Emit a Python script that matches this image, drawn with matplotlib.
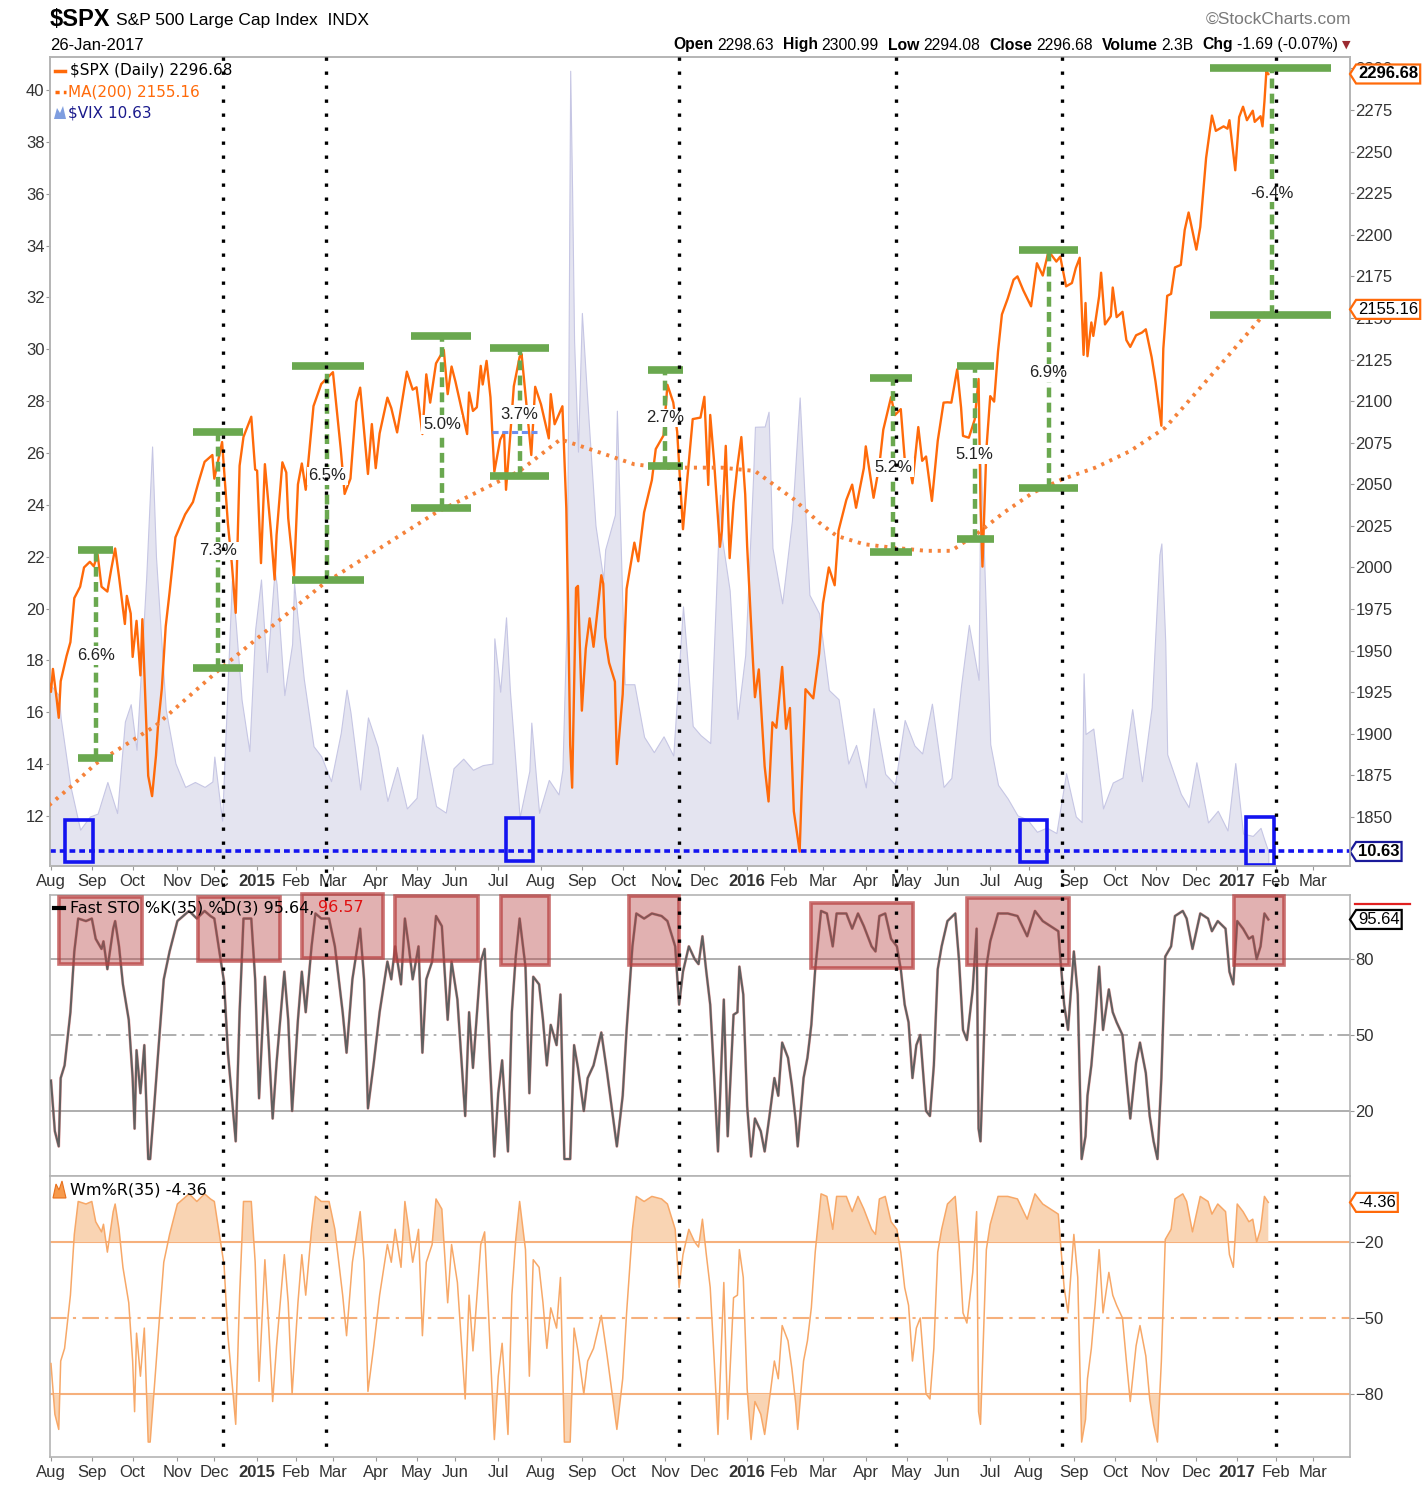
import numpy as np
import matplotlib
matplotlib.use("Agg")
import matplotlib.pyplot as plt
from matplotlib.patches import Rectangle, Polygon
from matplotlib.lines import Line2D
from matplotlib.path import Path
import matplotlib.transforms as mtransforms

plt.rcParams['font.family'] = ['Liberation Sans', 'DejaVu Sans']

# NYSE holidays in the window -> x axis counts trading days, like StockCharts
holidays = ['2014-09-01', '2014-11-27', '2014-12-25', '2015-01-01', '2015-01-19',
            '2015-02-16', '2015-04-03', '2015-05-25', '2015-07-03', '2015-09-07',
            '2015-11-26', '2015-12-25', '2016-01-01', '2016-01-18', '2016-02-15',
            '2016-03-25', '2016-05-30', '2016-07-04', '2016-09-05', '2016-11-24',
            '2016-12-26', '2017-01-02', '2017-01-16', '2017-02-20']
start_day = np.datetime64('2014-08-01')


def tday(dates):
    d = np.array(dates, dtype='datetime64[D]')
    return np.busday_count(start_day, d, holidays=holidays)


# ---- data ----
spx = [
    ('2014-07-31', 1930.7), ('2014-08-01', 1925.2), ('2014-08-04', 1939.0), ('2014-08-06', 1920.2),
    ('2014-08-07', 1909.6), ('2014-08-08', 1931.6), ('2014-08-13', 1946.7), ('2014-08-15', 1955.1),
    ('2014-08-19', 1981.6), ('2014-08-22', 1988.4), ('2014-08-26', 2000.0), ('2014-08-29', 2003.4),
    ('2014-09-03', 2000.7), ('2014-09-05', 2007.7), ('2014-09-09', 1988.4), ('2014-09-12', 1985.5),
    ('2014-09-16', 1999.0), ('2014-09-18', 2011.4), ('2014-09-22', 1994.3), ('2014-09-25', 1966.0),
    ('2014-09-26', 1982.9), ('2014-09-30', 1972.3), ('2014-10-01', 1946.2), ('2014-10-03', 1967.9),
    ('2014-10-07', 1935.1), ('2014-10-08', 1968.9), ('2014-10-10', 1906.1), ('2014-10-13', 1874.7),
    ('2014-10-15', 1862.5), ('2014-10-17', 1886.8), ('2014-10-20', 1904.0), ('2014-10-22', 1927.1),
    ('2014-10-24', 1964.6), ('2014-10-28', 1985.1), ('2014-10-31', 2018.1), ('2014-11-07', 2031.9),
    ('2014-11-13', 2039.3), ('2014-11-18', 2051.8), ('2014-11-21', 2063.5), ('2014-11-28', 2067.6),
    ('2014-12-01', 2053.4), ('2014-12-05', 2075.4), ('2014-12-10', 2026.1), ('2014-12-12', 2002.3),
    ('2014-12-16', 1972.7), ('2014-12-18', 2061.2), ('2014-12-22', 2078.5), ('2014-12-29', 2090.6),
    ('2014-12-31', 2058.9), ('2015-01-02', 2058.2), ('2015-01-06', 2002.6), ('2015-01-08', 2062.1),
    ('2015-01-13', 2023.0), ('2015-01-15', 1992.7), ('2015-01-16', 2019.4), ('2015-01-22', 2063.2),
    ('2015-01-26', 2057.1), ('2015-01-27', 2029.6), ('2015-01-30', 1995.0), ('2015-02-03', 2050.0),
    ('2015-02-05', 2062.5), ('2015-02-09', 2046.7), ('2015-02-13', 2097.0), ('2015-02-20', 2110.3),
    ('2015-02-25', 2113.9), ('2015-03-02', 2117.4), ('2015-03-06', 2071.3), ('2015-03-10', 2044.2),
    ('2015-03-13', 2053.4), ('2015-03-18', 2099.5), ('2015-03-20', 2108.1), ('2015-03-26', 2056.2),
    ('2015-03-30', 2086.2), ('2015-04-01', 2059.7), ('2015-04-06', 2080.6), ('2015-04-10', 2102.1),
    ('2015-04-14', 2095.8), ('2015-04-17', 2081.2), ('2015-04-24', 2117.7), ('2015-04-29', 2106.9),
    ('2015-05-01', 2108.3), ('2015-05-05', 2089.5), ('2015-05-06', 2080.2), ('2015-05-08', 2116.1),
    ('2015-05-12', 2099.1), ('2015-05-15', 2122.7), ('2015-05-21', 2130.8), ('2015-05-26', 2104.2),
    ('2015-05-28', 2120.8), ('2015-06-01', 2111.7), ('2015-06-04', 2095.8), ('2015-06-09', 2080.2),
    ('2015-06-10', 2105.2), ('2015-06-12', 2094.1), ('2015-06-16', 2096.3), ('2015-06-18', 2121.2),
    ('2015-06-19', 2110.0), ('2015-06-23', 2124.2), ('2015-06-25', 2102.3), ('2015-06-29', 2057.6),
    ('2015-07-02', 2076.8), ('2015-07-07', 2081.3), ('2015-07-08', 2046.7), ('2015-07-10', 2076.6),
    ('2015-07-14', 2108.9), ('2015-07-17', 2126.6), ('2015-07-20', 2128.3), ('2015-07-24', 2079.7),
    ('2015-07-27', 2067.6), ('2015-07-29', 2108.6), ('2015-08-03', 2098.0), ('2015-08-07', 2077.6),
    ('2015-08-10', 2104.2), ('2015-08-12', 2086.1), ('2015-08-18', 2096.9), ('2015-08-20', 2035.7),
    ('2015-08-21', 1970.9), ('2015-08-24', 1893.2), ('2015-08-25', 1867.6), ('2015-08-27', 1987.7),
    ('2015-08-28', 1988.9), ('2015-09-01', 1913.9), ('2015-09-03', 1951.1), ('2015-09-08', 1969.4),
    ('2015-09-10', 1952.3), ('2015-09-16', 1995.3), ('2015-09-17', 1990.2), ('2015-09-18', 1958.0),
    ('2015-09-22', 1942.7), ('2015-09-25', 1931.3), ('2015-09-28', 1881.8), ('2015-10-01', 1923.8),
    ('2015-10-05', 1987.1), ('2015-10-09', 2014.9), ('2015-10-13', 2003.7), ('2015-10-16', 2033.1),
    ('2015-10-22', 2052.5), ('2015-10-26', 2071.2), ('2015-10-30', 2079.4), ('2015-11-03', 2109.8),
    ('2015-11-06', 2099.2), ('2015-11-10', 2081.7), ('2015-11-13', 2023.0), ('2015-11-17', 2050.4),
    ('2015-11-20', 2089.2), ('2015-11-27', 2090.1), ('2015-12-01', 2102.6), ('2015-12-03', 2049.6),
    ('2015-12-04', 2091.7), ('2015-12-08', 2063.6), ('2015-12-11', 2012.4), ('2015-12-14', 2021.9),
    ('2015-12-16', 2073.1), ('2015-12-18', 2005.6), ('2015-12-22', 2039.0), ('2015-12-24', 2061.0),
    ('2015-12-29', 2078.4), ('2015-12-31', 2043.9), ('2016-01-04', 2012.7), ('2016-01-07', 1943.1),
    ('2016-01-08', 1922.0), ('2016-01-12', 1938.7), ('2016-01-15', 1880.3), ('2016-01-20', 1859.3),
    ('2016-01-22', 1906.9), ('2016-01-26', 1903.6), ('2016-01-29', 1940.2), ('2016-02-02', 1903.0),
    ('2016-02-04', 1915.5), ('2016-02-08', 1853.4), ('2016-02-11', 1829.1), ('2016-02-12', 1864.8),
    ('2016-02-17', 1926.8), ('2016-02-23', 1921.3), ('2016-02-26', 1948.1), ('2016-03-01', 1978.4),
    ('2016-03-04', 2000.0), ('2016-03-09', 1989.3), ('2016-03-11', 2022.2), ('2016-03-17', 2040.6),
    ('2016-03-22', 2049.8), ('2016-03-24', 2035.9), ('2016-03-31', 2059.7), ('2016-04-01', 2072.8),
    ('2016-04-07', 2041.9), ('2016-04-12', 2061.7), ('2016-04-14', 2082.8), ('2016-04-20', 2102.4),
    ('2016-04-22', 2091.6), ('2016-04-27', 2095.2), ('2016-04-29', 2065.3), ('2016-05-03', 2063.4),
    ('2016-05-05', 2050.6), ('2016-05-10', 2084.4), ('2016-05-12', 2064.1), ('2016-05-16', 2066.7),
    ('2016-05-19', 2040.0), ('2016-05-24', 2076.1), ('2016-05-27', 2099.1), ('2016-06-01', 2099.3),
    ('2016-06-03', 2099.1), ('2016-06-08', 2119.1), ('2016-06-10', 2096.1), ('2016-06-13', 2079.1),
    ('2016-06-16', 2078.0), ('2016-06-21', 2088.9), ('2016-06-23', 2113.3), ('2016-06-24', 2037.4),
    ('2016-06-27', 2000.5), ('2016-06-29', 2070.8), ('2016-07-01', 2103.0), ('2016-07-06', 2099.7),
    ('2016-07-08', 2129.9), ('2016-07-12', 2152.1), ('2016-07-15', 2161.7), ('2016-07-20', 2173.0),
    ('2016-07-22', 2175.0), ('2016-07-27', 2166.6), ('2016-08-02', 2157.0), ('2016-08-05', 2182.9),
    ('2016-08-10', 2175.5), ('2016-08-15', 2190.2), ('2016-08-19', 2183.9), ('2016-08-23', 2186.9),
    ('2016-08-26', 2169.0), ('2016-08-31', 2171.0), ('2016-09-02', 2180.0), ('2016-09-07', 2186.2),
    ('2016-09-09', 2127.8), ('2016-09-12', 2159.0), ('2016-09-13', 2127.0), ('2016-09-15', 2147.3),
    ('2016-09-16', 2139.2), ('2016-09-21', 2163.1), ('2016-09-22', 2177.2), ('2016-09-26', 2146.1),
    ('2016-09-29', 2151.1), ('2016-09-30', 2168.3), ('2016-10-04', 2150.5), ('2016-10-07', 2153.7),
    ('2016-10-11', 2136.7), ('2016-10-13', 2132.6), ('2016-10-18', 2139.6), ('2016-10-21', 2141.2),
    ('2016-10-25', 2143.2), ('2016-10-28', 2126.4), ('2016-11-01', 2111.7), ('2016-11-04', 2085.2),
    ('2016-11-07', 2131.5), ('2016-11-09', 2163.3), ('2016-11-11', 2164.5), ('2016-11-15', 2180.4),
    ('2016-11-18', 2181.9), ('2016-11-22', 2202.9), ('2016-11-25', 2213.4), ('2016-12-01', 2191.1),
    ('2016-12-05', 2204.7), ('2016-12-08', 2246.2), ('2016-12-13', 2271.7), ('2016-12-15', 2262.5),
    ('2016-12-21', 2265.2), ('2016-12-23', 2263.8), ('2016-12-27', 2268.9), ('2016-12-30', 2238.8),
    ('2017-01-04', 2270.8), ('2017-01-06', 2277.0), ('2017-01-10', 2268.9), ('2017-01-13', 2274.6),
    ('2017-01-17', 2267.9), ('2017-01-20', 2271.3), ('2017-01-23', 2265.2), ('2017-01-24', 2280.1),
    ('2017-01-25', 2298.4), ('2017-01-26', 2296.68),
]

vix = [
    ('2014-07-31', 16.95), ('2014-08-01', 17.03), ('2014-08-07', 16.66), ('2014-08-08', 15.77),
    ('2014-08-15', 13.15), ('2014-08-22', 11.47), ('2014-08-29', 11.98), ('2014-09-05', 12.09),
    ('2014-09-12', 13.31), ('2014-09-19', 12.11), ('2014-09-25', 15.64), ('2014-09-30', 16.31),
    ('2014-10-03', 14.55), ('2014-10-10', 21.24), ('2014-10-15', 26.25), ('2014-10-17', 21.99),
    ('2014-10-24', 16.11), ('2014-10-31', 14.03), ('2014-11-07', 13.12), ('2014-11-14', 13.31),
    ('2014-11-21', 13.12), ('2014-11-28', 13.33), ('2014-12-01', 14.29), ('2014-12-05', 11.82),
    ('2014-12-12', 21.08), ('2014-12-16', 19.44), ('2014-12-19', 16.49), ('2014-12-26', 14.50),
    ('2014-12-31', 19.20), ('2015-01-06', 21.12), ('2015-01-09', 17.55), ('2015-01-15', 21.48),
    ('2015-01-16', 20.95), ('2015-01-23', 16.66), ('2015-01-29', 18.63), ('2015-01-30', 20.97),
    ('2015-02-06', 17.29), ('2015-02-13', 14.69), ('2015-02-20', 14.30), ('2015-02-27', 13.34),
    ('2015-03-06', 15.20), ('2015-03-11', 16.87), ('2015-03-13', 16.00), ('2015-03-20', 13.02),
    ('2015-03-26', 15.80), ('2015-04-02', 14.67), ('2015-04-10', 12.58), ('2015-04-17', 13.89),
    ('2015-04-24', 12.29), ('2015-05-01', 12.70), ('2015-05-06', 15.15), ('2015-05-15', 12.38),
    ('2015-05-22', 12.13), ('2015-05-29', 13.84), ('2015-06-05', 14.21), ('2015-06-12', 13.78),
    ('2015-06-19', 13.96), ('2015-06-26', 14.02), ('2015-06-29', 18.85), ('2015-07-02', 16.79),
    ('2015-07-08', 19.66), ('2015-07-10', 16.83), ('2015-07-17', 11.95), ('2015-07-24', 13.74),
    ('2015-07-27', 15.60), ('2015-07-31', 12.12), ('2015-08-07', 13.39), ('2015-08-14', 12.83),
    ('2015-08-18', 13.79), ('2015-08-20', 19.14), ('2015-08-21', 28.03), ('2015-08-24', 40.74),
    ('2015-08-25', 36.02), ('2015-08-26', 30.32), ('2015-08-28', 26.05), ('2015-09-01', 31.40),
    ('2015-09-04', 27.80), ('2015-09-11', 23.20), ('2015-09-17', 21.14), ('2015-09-18', 22.28),
    ('2015-09-25', 23.62), ('2015-09-28', 27.63), ('2015-10-02', 17.08), ('2015-10-09', 17.08),
    ('2015-10-16', 15.05), ('2015-10-23', 14.46), ('2015-10-30', 15.07), ('2015-11-06', 14.33),
    ('2015-11-13', 20.08), ('2015-11-20', 15.47), ('2015-11-27', 15.12), ('2015-12-04', 14.81),
    ('2015-12-11', 24.39), ('2015-12-14', 22.73), ('2015-12-18', 20.70), ('2015-12-24', 15.74),
    ('2015-12-31', 18.21), ('2016-01-07', 24.99), ('2016-01-08', 27.01), ('2016-01-15', 27.02),
    ('2016-01-20', 27.59), ('2016-01-22', 22.34), ('2016-01-29', 20.20), ('2016-02-05', 23.38),
    ('2016-02-11', 28.14), ('2016-02-19', 20.53), ('2016-02-26', 19.81), ('2016-03-04', 16.86),
    ('2016-03-11', 16.50), ('2016-03-18', 14.02), ('2016-03-24', 14.74), ('2016-04-01', 13.10),
    ('2016-04-07', 16.16), ('2016-04-15', 13.62), ('2016-04-22', 13.22), ('2016-04-29', 15.70),
    ('2016-05-06', 14.72), ('2016-05-12', 14.41), ('2016-05-19', 16.33), ('2016-05-27', 13.12),
    ('2016-06-03', 13.47), ('2016-06-10', 17.03), ('2016-06-16', 19.37), ('2016-06-23', 17.25),
    ('2016-06-24', 25.76), ('2016-06-27', 23.85), ('2016-07-01', 14.77), ('2016-07-08', 13.20),
    ('2016-07-15', 12.67), ('2016-07-22', 12.02), ('2016-07-29', 11.87), ('2016-08-05', 11.39),
    ('2016-08-12', 11.55), ('2016-08-19', 11.34), ('2016-08-26', 13.65), ('2016-09-02', 11.98),
    ('2016-09-08', 11.76), ('2016-09-09', 17.50), ('2016-09-12', 15.16), ('2016-09-16', 15.37),
    ('2016-09-23', 12.29), ('2016-09-30', 13.29), ('2016-10-07', 13.48), ('2016-10-14', 16.12),
    ('2016-10-21', 13.34), ('2016-10-28', 16.19), ('2016-11-03', 22.08), ('2016-11-04', 22.51),
    ('2016-11-08', 18.71), ('2016-11-09', 14.38), ('2016-11-18', 12.85), ('2016-11-25', 12.34),
    ('2016-12-01', 14.07), ('2016-12-09', 11.75), ('2016-12-16', 12.20), ('2016-12-23', 11.44),
    ('2016-12-30', 14.04), ('2017-01-06', 11.32), ('2017-01-13', 11.23), ('2017-01-20', 11.54),
    ('2017-01-24', 11.07), ('2017-01-26', 10.63),
]

# MA(200), trading day since 1-Aug-2014 -> value
ma200 = [(-1, 1857), (12, 1870), (23, 1882), (54, 1905), (86, 1938), (140, 1990), (198, 2033),
         (241, 2058), (262, 2077), (280, 2070), (300, 2062), (315, 2060), (345, 2060), (362, 2058),
         (382, 2041), (395, 2027), (404, 2019), (418, 2014), (432, 2012), (450, 2010), (463, 2010),
         (477, 2021), (490, 2033), (505, 2045), (520, 2053), (537, 2060), (555, 2070), (573, 2084),
         (600, 2120), (626, 2155.16)]

# Fast STO %K(35), trading day -> value
sto = [(0, 32), (2, 12), (4, 6), (5, 33), (7, 38), (10, 59), (12, 83), (14, 96), (18, 95), (21, 96),
       (23, 88), (26, 84), (27, 87), (29, 76), (32, 92), (33, 95), (35, 85), (37, 70), (40, 56),
       (42, 33), (43, 13), (44, 44), (46, 27), (48, 46), (50, 1), (51, 1), (53, 21), (56, 52),
       (58, 72), (61, 83), (65, 95), (68, 97), (71, 99), (75, 96), (79, 99), (82, 97), (84, 96),
       (87, 81), (89, 71), (91, 43), (95, 8), (97, 59), (99, 96), (103, 96), (105, 72), (107, 25),
       (110, 73), (112, 46), (114, 17), (116, 39), (120, 75), (122, 56), (124, 20), (127, 56),
       (129, 75), (131, 59), (134, 85), (136, 98), (139, 96), (143, 96), (146, 85), (150, 59),
       (152, 43), (155, 72), (159, 92), (161, 72), (163, 21), (166, 39), (169, 59), (173, 79),
       (175, 72), (177, 85), (180, 70), (182, 96), (184, 85), (186, 72), (189, 85), (191, 43),
       (193, 72), (196, 79), (198, 97), (201, 93), (204, 56), (206, 79), (209, 64), (213, 18),
       (215, 59), (217, 37), (221, 79), (223, 84), (225, 52), (228, 2), (230, 27), (232, 40),
       (235, 4), (237, 59), (239, 81), (241, 96), (244, 77), (246, 27), (248, 73), (251, 70),
       (253, 56), (255, 38), (257, 54), (260, 46), (262, 66), (264, 1), (267, 1), (269, 46),
       (271, 37), (274, 20), (276, 33), (279, 38), (283, 51), (286, 35), (291, 6), (294, 26),
       (296, 52), (299, 85), (301, 98), (305, 96), (309, 98), (314, 97), (317, 95), (321, 85),
       (323, 62), (325, 75), (328, 85), (331, 80), (333, 78), (335, 89), (337, 75), (339, 62),
       (341, 34), (343, 4), (346, 64), (348, 10), (351, 58), (353, 59), (354, 77), (356, 66),
       (358, 22), (360, 2), (362, 17), (365, 12), (367, 4), (370, 21), (372, 33), (374, 26),
       (376, 47), (379, 41), (381, 30), (383, 16), (384, 6), (387, 33), (389, 41), (391, 54),
       (393, 76), (396, 99), (399, 98), (402, 85), (404, 98), (409, 98), (412, 92), (415, 98),
       (418, 93), (422, 85), (424, 83), (426, 97), (429, 98), (432, 88), (435, 85), (437, 76),
       (439, 62), (441, 55), (443, 33), (445, 46), (447, 50), (450, 20), (452, 18), (454, 38),
       (456, 76), (458, 85), (461, 95), (465, 98), (467, 79), (469, 52), (471, 48), (474, 68),
       (476, 92), (477, 13), (478, 8), (481, 77), (483, 87), (487, 98), (492, 98), (497, 97),
       (502, 89), (506, 99), (510, 95), (514, 93), (518, 91), (519, 81), (521, 62), (523, 52),
       (526, 83), (528, 66), (530, 1), (532, 10), (533, 26), (535, 38), (537, 56), (539, 77),
       (541, 52), (544, 68), (546, 59), (548, 55), (551, 50), (553, 33), (555, 17), (558, 39),
       (560, 47), (563, 35), (565, 18), (567, 8), (569, 1), (571, 33), (573, 81), (576, 85),
       (578, 97), (582, 99), (584, 96), (587, 84), (591, 98), (595, 96), (597, 91), (600, 95),
       (604, 92), (606, 75), (608, 70), (610, 95), (613, 92), (616, 88), (618, 89), (620, 80),
       (622, 85), (624, 98), (626, 95.64)]

month_labels = ['Aug', 'Sep', 'Oct', 'Nov', 'Dec', '2015', 'Feb', 'Mar', 'Apr', 'May', 'Jun',
                'Jul', 'Aug', 'Sep', 'Oct', 'Nov', 'Dec', '2016', 'Feb', 'Mar', 'Apr', 'May',
                'Jun', 'Jul', 'Aug', 'Sep', 'Oct', 'Nov', 'Dec', '2017', 'Feb', 'Mar']

# swing annotations: left day, right day, centre day, bar high, bar low, label, label price
swings = [(14, 32, 23, 2010.5, 1885.5, '6.6%', 1947),
          (73, 99, 86, 2081.4, 1939.6, '7.3%', 2010),
          (124, 161, 142, 2121.1, 1992.5, '6.5%', 2055),
          (185, 216, 201, 2139.2, 2035.8, '5.0%', 2086),
          (226, 256, 241, 2131.9, 2055.0, '3.7%', 2092),
          (307, 325, 316, 2118.7, 2061.0, '2.7%', 2090),
          (421, 443, 433, 2113.9, 2009.3, '5.2%', 2060),
          (466, 485, 475, 2121.1, 2017.1, '5.1%', 2068),
          (498, 528, 513, 2190.8, 2047.8, '6.9%', 2117),
          (596, 658, 628, 2300.2, 2151.8, '-6.4%', 2225)]

marker_days = [88.4, 141.3, 322.7, 434.7, 520, 630]
# low-VIX boxes: day0, day1, vix0, vix1
vix_boxes = [(7.2, 21.6, 10.23, 11.85), (233.8, 247.7, 10.27, 11.92),
             (498.5, 512.3, 10.21, 11.85), (614.6, 629, 10.12, 11.96)]
# overbought boxes on STO: day0, day1, k0, k1
sto_boxes = [(4.1, 46.8, 78, 104.5), (75.5, 117.7, 79.2, 104.5), (129, 170.6, 80.4, 105.5),
             (176.8, 219.4, 79.2, 105), (231.2, 255.9, 77.6, 105), (297, 322.7, 77.6, 105),
             (391, 443.5, 76.4, 102.1), (471.2, 523.6, 77.6, 104.1), (608.4, 634.1, 77.6, 105)]

spx_d, spx_v = zip(*spx)
spx_x = tday(spx_d)
spx_v = np.array(spx_v)
vix_d, vix_v = zip(*vix)
vix_x = tday(vix_d)
vix_v = np.array(vix_v)
ma_x, ma_v = map(np.array, zip(*ma200))
sto_x, sto_k = map(np.array, zip(*sto))
wr = sto_k - 100  # Williams %R(35) is %K(35) shifted down by 100

months = np.arange('2014-08', '2017-04', dtype='datetime64[M]').astype('datetime64[D]')
month_pos = tday(np.busday_offset(months, 0, roll='forward', holidays=holidays))

# ---- figure ----
W, H = 1424, 1501
fig = plt.figure(figsize=(W / 100, H / 100), dpi=100)
renderer = fig.canvas.get_renderer()


def fx(px):
    return px / W


def fy(py):
    return 1 - py / H


L, R = 50, 1350
ax = fig.add_axes([fx(L), fy(866), (R - L) / W, (866 - 57) / H])
ax2 = ax.twinx()
ax_sto = fig.add_axes([fx(L), fy(1176), (R - L) / W, (1176 - 895) / H])
ax_wr = fig.add_axes([fx(L), fy(1457), (R - L) / W, (1457 - 1176) / H])

spine_c = '#b4b4b4'
for a in (ax, ax2, ax_sto, ax_wr):
    a.set_xlim(-0.5, 668)
    for s in a.spines.values():
        s.set_color(spine_c)
        s.set_linewidth(1.2)

tk = dict(labelsize=12, length=3, color='#999999', labelcolor='#333333')

# VIX area on left scale
ax.fill_between(vix_x, vix_v, 0, facecolor='#e4e4f0', edgecolor='#c6c6e4', lw=0.8, zorder=1)
ax.set_ylim(10.07, 41.27)
ax.set_yticks(range(12, 41, 2))
ax.axhline(10.63, color='#1414f0', lw=2.6, ls=(0, (1.6, 1.1)), zorder=3)
for d0, d1, v0, v1 in vix_boxes:
    ax.add_patch(Rectangle((d0, v0), d1 - d0, v1 - v0, fill=False, ec='#1414f0', lw=2.6, zorder=4))

# price on right scale
ax2.plot(spx_x, spx_v, color='#ff6a0a', lw=1.7, zorder=3)
ax2.plot(ma_x, ma_v, color='#f5823a', lw=2.8, ls=(0, (0.8, 1.5)), zorder=3)
ax2.set_ylim(1820.5, 2306.9)
ax2.set_yticks(range(1850, 2301, 25))
green = '#6aa84f'
for d0, d1, dc, hi, lo, lab, ly in swings:
    ax2.plot([d0, d1], [hi, hi], color=green, lw=5.5, solid_capstyle='butt', zorder=5)
    ax2.plot([d0, d1], [lo, lo], color=green, lw=5.5, solid_capstyle='butt', zorder=5)
    ax2.plot([dc, dc], [lo, hi], color=green, lw=3.2, ls=(0, (2.2, 1.2)), zorder=5)
    ax2.text(dc, ly, lab, ha='center', va='center', fontsize=12, color='#222222', zorder=6,
             bbox=dict(fc='white', ec='none', pad=1.2))
ax2.plot([227, 250], [2081.4, 2081.4], color='#6d8ff0', lw=2.2, ls=(0, (2, 1.2)), zorder=4)

ax.set_xticks(month_pos)
ax.set_xticklabels(month_labels)
ax.tick_params(axis='x', pad=3, **tk)
ax.tick_params(axis='y', pad=1, **tk)
ax2.tick_params(axis='y', pad=1, **tk)

# Fast STO panel
ax_sto.set_ylim(-5.7, 105.3)
for lv, ls in ((80, '-'), (50, (0, (8, 3, 1.5, 3))), (20, '-')):
    ax_sto.axhline(lv, color='#a8a8a8', lw=1.3, ls=ls, zorder=1)
ax_sto.plot(sto_x, sto_k, color='#e24a4a', lw=2.1, alpha=0.45, zorder=2)
ax_sto.plot(sto_x, sto_k, color='#606060', lw=1.5, zorder=3)
for d0, d1, k0, k1 in sto_boxes:
    ax_sto.add_patch(Rectangle((d0, k0), d1 - d0, k1 - k0, fc=(0.72, 0.28, 0.28, 0.42),
                               ec=(0.72, 0.25, 0.25, 0.75), lw=2.6, zorder=4, clip_on=False))
ax_sto.yaxis.tick_right()
ax_sto.set_yticks([20, 50, 80])
ax_sto.set_xticks(month_pos)
ax_sto.tick_params(axis='x', length=0, labelbottom=False)
ax_sto.tick_params(axis='y', pad=1, **tk)

# Williams %R panel
ax_wr.set_ylim(-104.9, 6.06)
for lv, ls in ((-20, '-'), (-50, (0, (8, 3, 1.5, 3))), (-80, '-')):
    ax_wr.axhline(lv, color='#f6b07c', lw=1.5, ls=ls, zorder=1)
ax_wr.fill_between(sto_x, wr, -20, where=wr >= -20, interpolate=True, color='#f9d4b3', lw=0, zorder=2)
ax_wr.fill_between(sto_x, wr, -80, where=wr <= -80, interpolate=True, color='#f9d4b3', lw=0, zorder=2)
ax_wr.plot(sto_x, wr, color='#f7a868', lw=1.1, zorder=3)
ax_wr.yaxis.tick_right()
ax_wr.set_yticks([-80, -50, -20])
ax_wr.set_xticks(month_pos)
ax_wr.set_xticklabels(month_labels)
ax_wr.tick_params(axis='x', pad=3, **tk)
ax_wr.tick_params(axis='y', pad=1, **tk)

for a in (ax, ax_wr):
    for t in a.get_xticklabels():
        if t.get_text().isdigit():
            t.set_fontweight('bold')

# black dotted markers through all panels
trans_fig = mtransforms.blended_transform_factory(ax.transData, fig.transFigure)
for d in marker_days:
    fig.add_artist(Line2D([d, d], [fy(57), fy(1457)], transform=trans_fig, color='black',
                          lw=2.4, ls=(0, (1, 3.2)), zorder=10))


# value tags on the right edge
def tag_shape(x0, y0, width, height, mutation_size):
    pad = 0.12 * mutation_size
    x0, y0 = x0 - pad, y0 - pad
    x1, y1 = x0 + width + 2 * pad, y0 + height + 2 * pad
    tip = x0 - 0.32 * (y1 - y0)
    return Path([(x0, y0), (x1, y0), (x1, y1), (x0, y1), (tip, (y0 + y1) / 2), (x0, y0)],
                closed=True)


def tag(a, y, s, ec, bold=False):
    tr = mtransforms.blended_transform_factory(a.transAxes, a.transData)
    a.text(1.0062, y, s, transform=tr, ha='left', va='center', fontsize=12,
           fontweight='bold' if bold else 'normal', clip_on=False, zorder=20,
           bbox=dict(boxstyle=tag_shape, fc='white', ec=ec, lw=1.6))


tag(ax2, 2296.68, '2296.68', '#ff6a0a', bold=True)
tag(ax2, 2155.16, '2155.16', '#ff6a0a')
tag(ax, 10.63, '10.63', '#1a1a9a', bold=True)
tag(ax_sto, 95.64, '95.64', 'black')
tag(ax_wr, -4.36, '-4.36', '#ff6a0a')
# the %D tag (96.57) sits right behind the %K tag; only its red top edge shows
tr_sto = mtransforms.blended_transform_factory(ax_sto.transAxes, ax_sto.transData)
ax_sto.plot([1.004, 1.046], [101.6, 101.6], transform=tr_sto, color='#e02020', lw=1.6,
            clip_on=False, zorder=19)

# header
t = fig.text(fx(50), fy(19), '$SPX', fontsize=17, fontweight='bold', va='center',
             parse_math=False)
bb = t.get_window_extent(renderer)
fig.text(fx(bb.x1 + 5), fy(20), 'S&P 500 Large Cap Index  INDX', fontsize=12.5, va='center')
fig.text(fx(50), fy(45), '26-Jan-2017', fontsize=12, va='center')
fig.text(fx(1351), fy(19), '\u00a9StockCharts.com', fontsize=12.5, va='center', ha='right',
         color='#7a7a7a')

quote = [('Open', True), ('2298.63', False), ('High', True), ('2300.99', False),
         ('Low', True), ('2294.08', False), ('Close', True), ('2296.68', False),
         ('Volume', True), ('2.3B', False), ('Chg', True), ('-1.69 (-0.07%)', False)]
gaps = [4 if b else 9 for s, b in quote]
widths = []
for s, b in quote:
    tmp = fig.text(0, 0, s, fontsize=12, fontweight='bold' if b else 'normal')
    widths.append(tmp.get_window_extent(renderer).width)
    tmp.remove()
fs = 12 * (1338 - 673 - sum(gaps[:-1])) / sum(widths)
xp = 673
for (s, b), g in zip(quote, gaps):
    t = fig.text(fx(xp), fy(45), s, fontsize=fs, fontweight='bold' if b else 'normal',
                 va='center', ha='left')
    xp = t.get_window_extent(renderer).x1 + g
fig.text(fx(1342), fy(45), '\u25bc', fontsize=8, color='#9b2a30', va='center', ha='left',
         family='DejaVu Sans')

# panel legends
lf = 'DejaVu Sans'
fig.add_artist(Line2D([fx(55), fx(65)], [fy(71), fy(71)], color='#ff6a0a', lw=2.5))
fig.text(fx(70), fy(71), '$SPX (Daily) 2296.68', fontsize=11, family=lf, va='center',
         parse_math=False)
fig.add_artist(Line2D([fx(55), fx(66)], [fy(92), fy(92)], color='#ff6a0a', lw=2.5,
                      ls=(0, (1.2, 1.2))))
fig.text(fx(68), fy(92), 'MA(200) 2155.16', fontsize=11, family=lf, va='center', color='#ff6a0a')
fig.add_artist(Polygon([(fx(54), fy(119)), (fx(57), fy(108)), (fx(60), fy(113)),
                        (fx(63), fy(106)), (fx(66), fy(119))], closed=True,
                       transform=fig.transFigure, fc='#7f9ee0', ec='none'))
fig.text(fx(68), fy(113), '$VIX 10.63', fontsize=11, family=lf, va='center', color='#1a1a8c',
         parse_math=False)

fig.add_artist(Line2D([fx(54), fx(64)], [fy(908), fy(908)], color='black', lw=3))
t = fig.text(fx(70), fy(908), 'Fast STO %K(35) %D(3) 95.64,', fontsize=11.5, family=lf,
             va='center')
bb = t.get_window_extent(renderer)
fig.text(fx(bb.x1 + 4), fy(908), '96.57', fontsize=11.5, family=lf, va='center', color='#e01010')

fig.add_artist(Polygon([(fx(53), fy(1198)), (fx(56), fy(1184)), (fx(59), fy(1190)),
                        (fx(62), fy(1181)), (fx(66), fy(1198))], closed=True,
                       transform=fig.transFigure, fc='#f79a4c', ec='#e8701c', lw=0.8))
fig.text(fx(70), fy(1190), 'Wm%R(35) -4.36', fontsize=11.5, family=lf, va='center')

fig.savefig('out.png', dpi=100)
